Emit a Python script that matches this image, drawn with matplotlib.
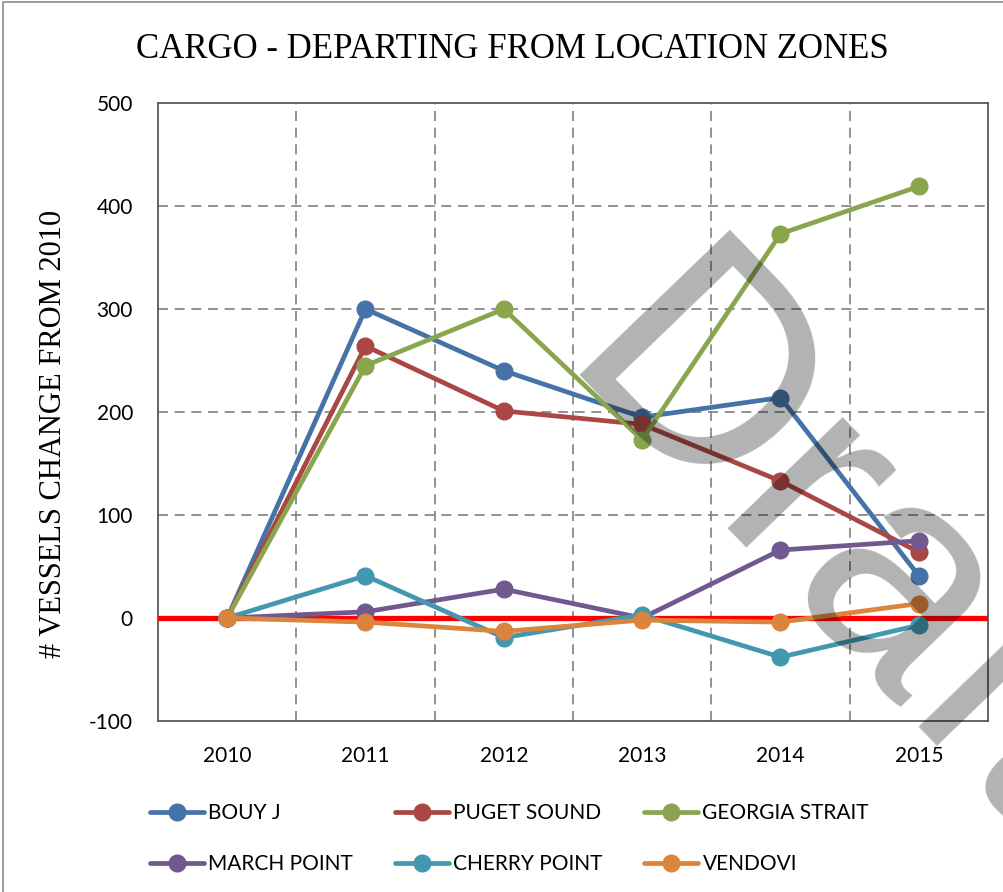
import matplotlib
matplotlib.use("Agg")
import matplotlib.pyplot as plt
from matplotlib.patches import Rectangle

# data (change in vessel count vs 2010)
years = ["2010", "2011", "2012", "2013", "2014", "2015"]
bouy_j = [0, 300, 240, 195, 214, 41]
puget_sound = [0, 264, 201, 188, 133, 64]
georgia_strait = [0, 245, 300, 173, 373, 419]
march_point = [0, 6, 28, 0, 66, 75]
cherry_point = [0, 41, -19, 3, -38, -7]
vendovi = [0, -4, -13, -2, -4, 14]

series = [
    ("BOUY J", bouy_j, "#4572A7"),
    ("PUGET SOUND", puget_sound, "#AA4643"),
    ("GEORGIA STRAIT", georgia_strait, "#89A54E"),
    ("MARCH POINT", march_point, "#71588F"),
    ("CHERRY POINT", cherry_point, "#4198AF"),
    ("VENDOVI", vendovi, "#DB843D"),
]

W, H = 1004, 892
fig = plt.figure(figsize=(W / 100, H / 100), dpi=100)
ax = fig.add_axes([158 / W, 1 - 721 / H, 830 / W, 618 / H])

sans = ["Lato", "DejaVu Sans"]
serif = ["Liberation Serif", "DejaVu Serif"]

x = list(range(len(years)))
lines = []
for name, vals, col in series:
    ln, = ax.plot(x, vals, color=col, lw=3.4, marker="o", ms=12, label=name,
                  solid_capstyle="round", zorder=4)
    lines.append(ln)

ax.axhline(0, color="#FF0000", lw=3.8, zorder=3)

ax.set_xlim(-0.5, 5.5)
ax.set_ylim(-100, 500)
ax.set_xticks(x)
ax.set_xticklabels(years, fontfamily=sans, fontsize=15)
ax.set_yticks(range(-100, 501, 100))
ax.set_yticklabels([str(v) for v in range(-100, 501, 100)], fontfamily=sans, fontsize=15)
ax.tick_params(axis="x", length=0, pad=18)
ax.tick_params(axis="y", length=0, pad=18)

# dashed grid: horizontal at value ticks, vertical between categories
grid_kw = dict(color="#808080", lw=1.2, ls=(0, (6, 4)), zorder=1)
for v in range(0, 500, 100):
    if v != 0:
        ax.axhline(v, **grid_kw)
for b in [0.5, 1.5, 2.5, 3.5, 4.5]:
    ax.axvline(b, **grid_kw)

for s in ax.spines.values():
    s.set_color("#595959")
    s.set_linewidth(1.3)

ax.set_ylabel("# VESSELS CHANGE FROM 2010", fontfamily=serif, fontsize=22, labelpad=14)
ax.yaxis.set_label_coords(-0.108, 0.465)

fig.text(512 / W, 1 - 50 / H, "CARGO - DEPARTING FROM LOCATION ZONES",
         fontfamily=serif, fontsize=25, ha="center", va="center")

# legend filled row by row (matplotlib fills columns first)
order = [0, 3, 1, 4, 2, 5]
fig.legend([lines[i] for i in order], [series[i][0] for i in order],
           loc="upper left", bbox_to_anchor=(150 / W, 1 - 803 / H), ncol=3,
           frameon=False, borderpad=0, borderaxespad=0, handlelength=2.6,
           handletextpad=0.2, columnspacing=2.0, labelspacing=1.5,
           prop={"family": sans, "size": 15})

# figure border
fig.add_artist(Rectangle((3 / W, -0.01), 1.05, 1 - 2 / H + 0.01, transform=fig.transFigure,
                         fill=False, edgecolor="#8c8c8c", lw=1.2))

# "Draft" watermark
fig.text(553 / W, 1 - 374 / H, "Draft", fontfamily=["Liberation Sans", "DejaVu Sans"],
         fontsize=218, rotation=-46, rotation_mode="anchor", ha="left", va="baseline",
         color="black", alpha=0.3, zorder=10)

fig.savefig("out.png", dpi=100)
